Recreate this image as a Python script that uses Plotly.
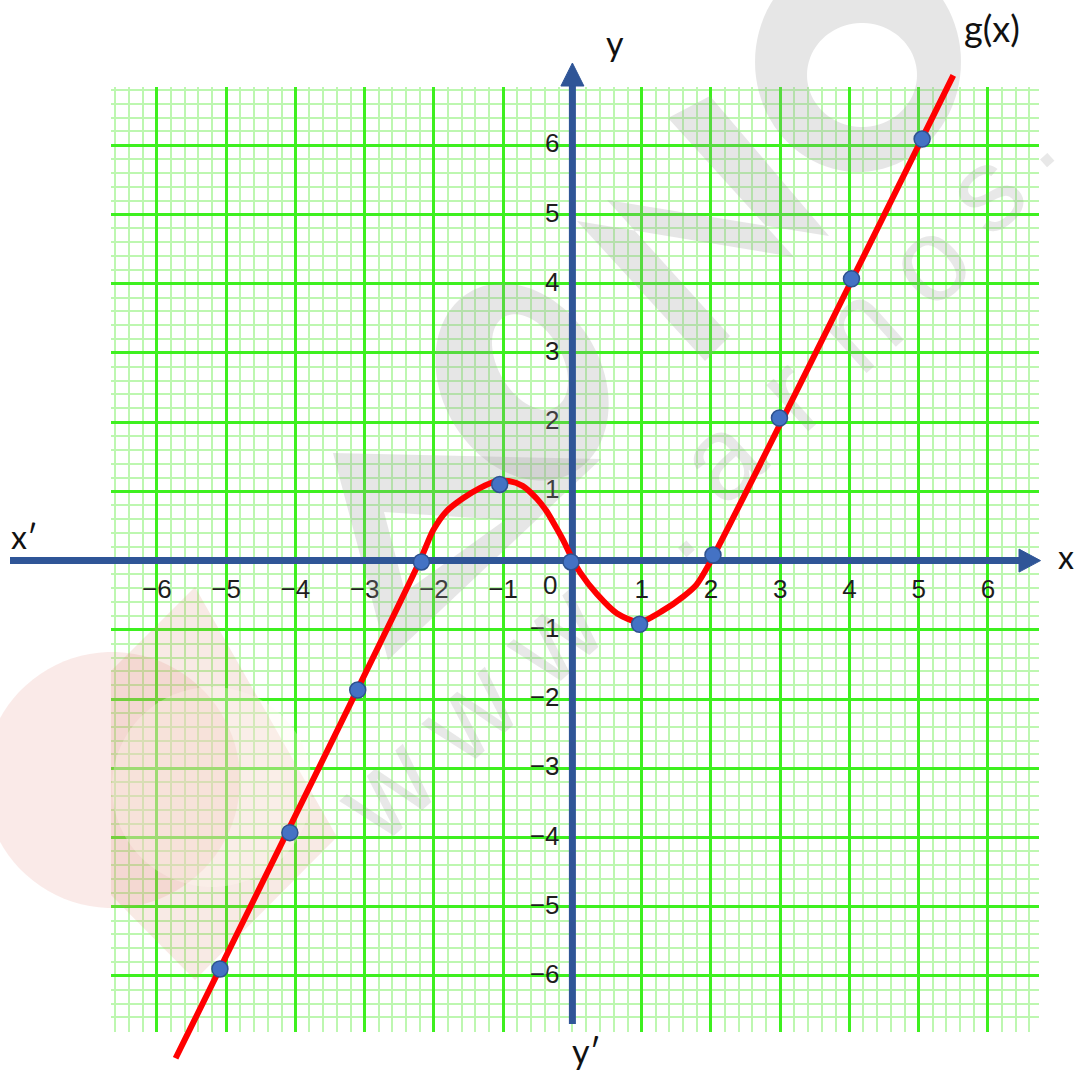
import numpy as np
import plotly.graph_objects as go

W, H = 1075, 1070

# Graph-paper frame in page pixels: where the origin sits and how long one unit is
ORIGIN = (572.4, 560.6)
UNIT = (69.25, 69.22)
GRID_LEFT, GRID_RIGHT, GRID_TOP, GRID_BOTTOM = 111, 1039, 87.3, 1031.7


def ux(px):
    return (px - ORIGIN[0]) / UNIT[0]


def uy(py):
    return (ORIGIN[1] - py) / UNIT[1]


# ---------------- data ----------------
x_tick_values = [-6, -5, -4, -3, -2, -1, 1, 2, 3, 4, 5, 6]
x_tick_labels = ["−6", "−5", "−4", "−3", "−2", "−1", "1", "2", "3", "4", "5", "6"]
y_tick_values = [-6, -5, -4, -3, -2, -1, 1, 2, 3, 4, 5, 6]
y_tick_labels = ["−6", "−5", "−4", "−3", "−2", "−1", "1", "2", "3", "4", "5", "6"]

# marked points of g(x)
point_x = [-5.09, -4.08, -3.10, -2.18, -1.05, -0.02, 0.97, 2.03, 2.99, 4.03, 5.05]
point_y = [-5.90, -3.93, -1.87, -0.02, 1.10, -0.02, -0.92, 0.08, 2.06, 4.07, 6.09]

# traced graph of g(x)
curve_x = [-5.73, -2.21, -2.01, -1.82, -1.58, -1.33, -1.12, -0.92, -0.72, -0.52,
           -0.37, -0.23, -0.11, 0.00, 0.11, 0.35, 0.64, 0.97, 1.31, 1.60,
           1.79, 1.98, 5.50]
curve_y = [-7.19, -0.02, 0.44, 0.71, 0.90, 1.05, 1.14, 1.15, 1.08, 0.90,
           0.71, 0.47, 0.25, 0.02, -0.17, -0.48, -0.76, -0.89, -0.72, -0.52,
           -0.35, -0.04, 7.01]

# ---------------- styles ----------------
MAJOR_GREEN = "#3ef01f"
MINOR_GREEN = "#bdf7b0"
AXIS_BLUE = "#2f5597"
CURVE_RED = "#ff0000"
TICK_FONT = dict(family="Liberation Sans, Arial, sans-serif", size=26, color="#1e1e1e")
NAME_FONT = dict(family="Lato, Open Sans, sans-serif", size=32, color="#111111")
WM_GRAY = "rgba(160,160,160,0.26)"
WM_TEXT = "rgba(150,150,150,0.22)"

fig = go.Figure()

# anchor trace so the graph-paper subplot is built
fig.add_trace(go.Scatter(x=[0], y=[0], xaxis="x", yaxis="y", mode="markers",
                         marker=dict(opacity=0), hoverinfo="skip", showlegend=False))

# coordinate axes with arrow heads
x_axis_ends = [ux(10), ux(1019)]
y_axis_ends = [uy(1024), uy(86)]
fig.add_trace(go.Scatter(x=x_axis_ends, y=[0, 0], xaxis="x2", yaxis="y2", mode="lines",
                         line=dict(color=AXIS_BLUE, width=7), hoverinfo="skip", showlegend=False))
fig.add_trace(go.Scatter(x=[0, 0], y=y_axis_ends, xaxis="x2", yaxis="y2", mode="lines",
                         line=dict(color=AXIS_BLUE, width=7), hoverinfo="skip", showlegend=False))
ah_w, ah_len = 11.5, 21.5
fig.add_trace(go.Scatter(
    x=[x_axis_ends[1], x_axis_ends[1] + ah_len / UNIT[0], x_axis_ends[1], x_axis_ends[1]],
    y=[ah_w / UNIT[1], 0, -ah_w / UNIT[1], ah_w / UNIT[1]],
    xaxis="x2", yaxis="y2", mode="lines", fill="toself", fillcolor=AXIS_BLUE,
    line=dict(color=AXIS_BLUE, width=1), hoverinfo="skip", showlegend=False))
fig.add_trace(go.Scatter(
    x=[-ah_w / UNIT[0], 0, ah_w / UNIT[0], -ah_w / UNIT[0]],
    y=[y_axis_ends[1], y_axis_ends[1] + 23 / UNIT[1], y_axis_ends[1], y_axis_ends[1]],
    xaxis="x2", yaxis="y2", mode="lines", fill="toself", fillcolor=AXIS_BLUE,
    line=dict(color=AXIS_BLUE, width=1), hoverinfo="skip", showlegend=False))

# g(x)
fig.add_trace(go.Scatter(x=curve_x, y=curve_y, xaxis="x2", yaxis="y2", mode="lines",
                         line=dict(color=CURVE_RED, width=6, shape="spline", smoothing=0.7),
                         hoverinfo="skip", showlegend=False))
fig.add_trace(go.Scatter(x=point_x, y=point_y, xaxis="x2", yaxis="y2", mode="markers",
                         marker=dict(size=16, color="#4472c4", line=dict(color="#2f528f", width=1.5)),
                         hoverinfo="skip", showlegend=False))


# ---------------- background logo ----------------
def oriented(points, ccw=True):
    pts = list(points)
    area = sum(a[0] * b[1] - b[0] * a[1] for a, b in zip(pts, pts[1:] + pts[:1]))
    return pts if (area > 0) == ccw else pts[::-1]


def poly_path(points):
    return "M " + " L ".join(f"{ux(a):.4f},{uy(b):.4f}" for a, b in points) + " Z"


def ellipse(cx, cy, rx, ry, n=90, tilt=0.0):
    t = np.linspace(0, 2 * np.pi, n, endpoint=False)
    c, s = np.cos(np.deg2rad(tilt)), np.sin(np.deg2rad(tilt))
    ex, ey = rx * np.cos(t), ry * np.sin(t)
    return list(zip(cx + ex * c - ey * s, cy + ex * s + ey * c))


shapes = []


def add_region(outer_parts, holes=(), color=WM_GRAY):
    path = " ".join(poly_path(oriented(p, True)) for p in outer_parts)
    path += "".join(" " + poly_path(oriented(h, False)) for h in holes)
    shapes.append(dict(type="path", path=path, xref="x2", yref="y2",
                       fillcolor=color, line=dict(width=0), layer="between"))


# red round mark, pink tile and pale inner disc
add_region([ellipse(112, 780, 128, 128)], color="rgba(232,150,140,0.20)")
add_region([[(195, 587), (337, 837), (195, 980), (111, 895), (111, 671)]],
           color="rgba(215,140,110,0.18)")
add_region([ellipse(212, 787, 100, 100)], color="rgba(255,250,240,0.30)")

# grey ring
add_region([ellipse(858, 62, 103, 110)], [ellipse(862, 75, 55, 52)])
# grey slanted strokes, merged into one region
add_region([
    [(668, 118), (710, 96), (829, 236), (794, 257)],
    [(577, 221), (607, 200), (730, 336), (705, 361)],
    [(607, 200), (829, 236), (794, 257), (577, 221)],
])
# grey leaning loop
add_region([ellipse(522, 382, 80, 104, tilt=-30)], [ellipse(530, 362, 32, 52, tilt=-30)])
# grey open triangle
add_region([[(333, 453), (601, 459), (388, 660)]], [[(384, 512), (505, 520), (405, 592)]])

# web address running diagonally
wm_letters = ["w", "w", "w", ".", "a", "r", "n", "o", "s", "."]
wm_centres = [(378, 780), (460, 703), (545, 625), (656, 515), (712, 449),
              (782, 385), (850, 318), (920, 253), (977, 182), (1030, 141)]
wm_sizes = [118] * 9 + [70]
ang = np.deg2rad(42)
for ch, (cx, cy), fs in zip(wm_letters, wm_centres, wm_sizes):
    dx, dy = 4 * np.cos(ang), -4 * np.sin(ang)
    shapes.append(dict(type="line", xref="x2", yref="y2",
                       x0=ux(cx - dx), y0=uy(cy - dy), x1=ux(cx + dx), y1=uy(cy + dy),
                       line=dict(width=0, color="rgba(0,0,0,0)"), layer="between",
                       label=dict(text=ch, textangle=-42, textposition="middle",
                                  xanchor="center", yanchor="middle",
                                  font=dict(family="Liberation Sans, Arial", size=fs,
                                            weight="bold" if fs < 100 else "normal",
                                            color=WM_TEXT))))

# ---------------- text labels ----------------
annotations = [
    dict(text="0", x=ux(550), y=uy(584.5), font=TICK_FONT),
    dict(text="x′", x=ux(24), y=uy(536), font=NAME_FONT),
    dict(text="x", x=ux(1066), y=uy(556), font=NAME_FONT),
    dict(text="y", x=ux(615), y=uy(42), font=dict(NAME_FONT, size=34)),
    dict(text="y′", x=ux(586), y=uy(1050), font=dict(NAME_FONT, size=34)),
    dict(text="g(x)", x=ux(992), y=uy(28), font=dict(NAME_FONT, size=36)),
]
for a in annotations:
    a.update(xref="x2", yref="y2", showarrow=False, xanchor="center", yanchor="middle")

fig.update_layout(
    width=W, height=H, margin=dict(l=0, r=0, t=0, b=0),
    paper_bgcolor="white", plot_bgcolor="rgba(0,0,0,0)", showlegend=False,
    xaxis=dict(domain=[GRID_LEFT / W, GRID_RIGHT / W], range=[ux(GRID_LEFT), ux(GRID_RIGHT)],
               anchor="free", position=1 - ORIGIN[1] / H, side="bottom",
               tickmode="array", tickvals=x_tick_values, ticktext=x_tick_labels,
               ticks="", showline=False, zeroline=False,
               showgrid=True, gridcolor=MAJOR_GREEN, gridwidth=2.5,
               minor=dict(tickmode="linear", tick0=0, dtick=0.2, ticks="",
                          showgrid=True, gridcolor=MINOR_GREEN, gridwidth=1.6),
               tickfont=TICK_FONT, ticklabelstandoff=10, fixedrange=True),
    yaxis=dict(domain=[1 - GRID_BOTTOM / H, 1 - GRID_TOP / H], range=[uy(GRID_BOTTOM), uy(GRID_TOP)],
               anchor="free", position=ORIGIN[0] / W, side="left",
               tickmode="array", tickvals=y_tick_values, ticktext=y_tick_labels,
               ticks="", showline=False, zeroline=False,
               showgrid=True, gridcolor=MAJOR_GREEN, gridwidth=2.5,
               minor=dict(tickmode="linear", tick0=0, dtick=0.2, ticks="",
                          showgrid=True, gridcolor=MINOR_GREEN, gridwidth=1.6),
               tickfont=TICK_FONT, ticklabelstandoff=13, ticklabelshift=-2, fixedrange=True),
    xaxis2=dict(domain=[0, 1], range=[ux(0), ux(W)], anchor="y2", visible=False, fixedrange=True),
    yaxis2=dict(domain=[0, 1], range=[uy(H), uy(0)], anchor="x2", visible=False, fixedrange=True),
    shapes=shapes,
    annotations=annotations,
)

fig.write_html("out.html")
